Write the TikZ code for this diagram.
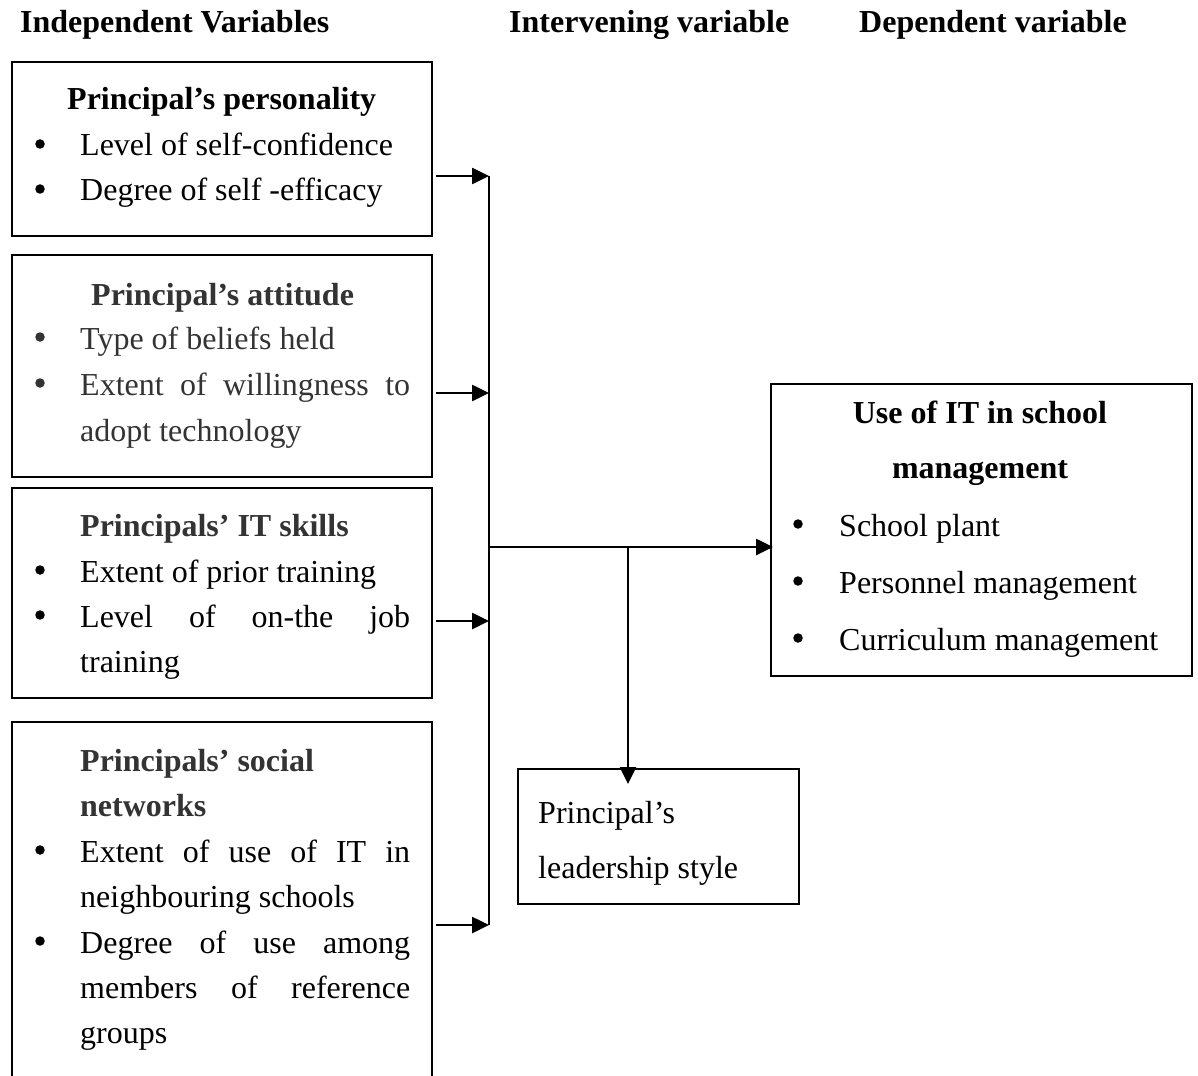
\documentclass[tikz,border=0pt]{standalone}
\usepackage{fontspec}
\setmainfont{Liberation Serif}
\usetikzlibrary{arrows.meta}
\definecolor{dgray}{HTML}{333333}
\begin{document}
\begin{tikzpicture}[x=1pt,y=-1pt,
  box/.style={draw, line width=2pt, inner sep=0pt, anchor=north west},
  txt/.style={inner sep=0pt, anchor=base west, font=\fontsize{32}{38}\selectfont},
  ttl/.style={inner sep=0pt, anchor=base west, font=\fontsize{32}{38}\selectfont\bfseries},
  bul/.style={circle, fill, inner sep=0pt, minimum size=9.5pt},
  conn/.style={line width=2.6pt},
  arr/.style={line width=2.6pt, -{Triangle[length=17pt,width=16pt]}},
]
\clip (0,0) rectangle (1198,1075);
\fill[white] (0,0) rectangle (1198,1075);

% headers
\node[ttl] (h1) at (20,33) {Independent Variables};
\node[ttl] (h2) at (509,33) {Intervening variable};
\node[ttl] (h3) at (859,33) {Dependent variable};

% box 1
\node[box, minimum width=420pt, minimum height=174pt] (b1) at (11,61) {};
\node[ttl] (b1t) at (67,110) {Principal’s personality};
\node[bul] (b1d1) at (40,144) {};
\node[txt] (b1l1) at (80,156) {Level of self-confidence};
\node[bul] (b1d2) at (40,189) {};
\node[txt] (b1l2) at (80,201) {Degree of self -efficacy};

% box 2
\node[box, minimum width=420pt, minimum height=222pt] (b2) at (11,254) {};
\begin{scope}[text=dgray]
\node[ttl] (b2t) at (91,305) {Principal’s attitude};
\node[bul, fill=dgray] (b2d1) at (40,337) {};
\node[txt] (b2l1) at (80,349) {Type of beliefs held};
\node[bul, fill=dgray] (b2d2) at (40,383) {};
\node[txt] (b2l2) at (80,395) {\makebox[330pt][s]{Extent of willingness to}};
\node[txt] (b2l3) at (80,441) {adopt technology};
\end{scope}

% box 3
\node[box, minimum width=420pt, minimum height=210pt] (b3) at (11,487) {};
\node[ttl, text=dgray] (b3t) at (80,536) {Principals’ IT skills};
\node[bul] (b3d1) at (40,570) {};
\node[txt] (b3l1) at (80,582) {Extent of prior training};
\node[bul] (b3d2) at (40,615) {};
\node[txt] (b3l2) at (80,627) {\makebox[330pt][s]{Level of on-the job}};
\node[txt] (b3l3) at (80,672) {training};

% box 4 (runs past the bottom edge)
\node[box, minimum width=420pt, minimum height=380pt] (b4) at (11,721) {};
\node[ttl, text=dgray] (b4t1) at (80,771) {Principals’ social};
\node[ttl, text=dgray] (b4t2) at (80,816) {networks};
\node[bul] (b4d1) at (40,850) {};
\node[txt] (b4l1) at (80,862) {\makebox[330pt][s]{Extent of use of IT in}};
\node[txt] (b4l2) at (80,907) {neighbouring schools};
\node[bul] (b4d2) at (40,941) {};
\node[txt] (b4l3) at (80,953) {\makebox[330pt][s]{Degree of use among}};
\node[txt] (b4l4) at (80,998) {\makebox[330pt][s]{members of reference}};
\node[txt] (b4l5) at (80,1043) {groups};

% dependent box
\node[box, minimum width=421pt, minimum height=292pt] (use) at (770,383) {};
\node[ttl, anchor=base] (ut1) at (980,423) {Use of IT in school};
\node[ttl, anchor=base] (ut2) at (980,478) {management};
\node[bul] (ud1) at (798,524) {};
\node[txt] (ul1) at (839,536) {School plant};
\node[bul] (ud2) at (798,581) {};
\node[txt] (ul2) at (839,593) {Personnel management};
\node[bul] (ud3) at (798,638) {};
\node[txt] (ul3) at (839,650) {Curriculum management};

% intervening box
\node[box, minimum width=281pt, minimum height=135pt] (lead) at (517,768) {};
\node[txt] (ll1) at (538,823) {Principal’s};
\node[txt] (ll2) at (538,878) {leadership style};

% connectors
\coordinate (j1) at (489,176);
\coordinate (j2) at (489,393);
\coordinate (j3) at (489,621);
\coordinate (j4) at (489,925);
\coordinate (jm) at (489,547);
\coordinate (jb) at (628,547);

\draw[conn] (j1) -- (j4);
\draw[arr] ([xshift=3pt]b1.east |- j1) -- (j1);
\draw[arr] ([xshift=3pt]b2.east |- j2) -- (j2);
\draw[arr] ([xshift=3pt]b3.east |- j3) -- (j3);
\draw[arr] ([xshift=3pt]b4.east |- j4) -- (j4);
\draw[arr] (jm) -- ([xshift=3pt]use.west |- jm);
\draw[arr] (jb) -- ([yshift=-16pt]jb |- lead.north);
\end{tikzpicture}
\end{document}
